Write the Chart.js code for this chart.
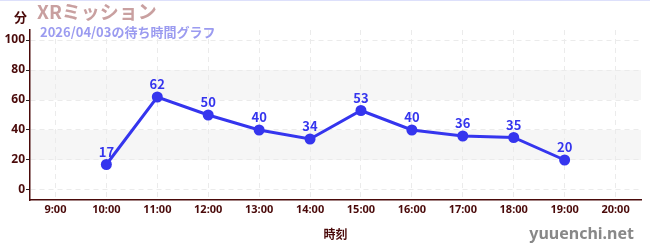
<!DOCTYPE html>
<html>
<head>
<meta charset="utf-8">
<script src="https://cdn.jsdelivr.net/npm/chart.js@4/dist/chart.umd.min.js"></script>
<style>
  html, body { margin: 0; padding: 0; background: #fff; }
  #wrap { width: 650px; height: 250px; position: relative; border-top: 1px solid #dde0fb; box-sizing: border-box; }
</style>
</head>
<body>
<div id="wrap"><canvas id="waitChart" width="650" height="249"></canvas></div>
<script>
// data
const hours = ['9:00', '10:00', '11:00', '12:00', '13:00', '14:00', '15:00', '16:00', '17:00', '18:00', '19:00', '20:00'];
const waitMinutes = [null, 17, 62, 50, 40, 34, 53, 40, 36, 35, 20, null];
const yTicks = [0, 10, 20, 30, 40, 50, 60, 70, 80, 90, 100];
const bands = [[20, 40], [60, 80]];

const maroon = '#4a0a0a';
const lineBlue = '#3535ee';
const gridGray = '#ebebeb';

// shaded bands behind the grid
const bandPlugin = {
    id: 'bands',
    beforeDraw(chart) {
        const { ctx, chartArea, scales } = chart;
        ctx.save();
        ctx.fillStyle = '#f6f6f6';
        bands.forEach(([lo, hi]) => {
            const y1 = scales.y.getPixelForValue(hi);
            const y2 = scales.y.getPixelForValue(lo);
            ctx.fillRect(chartArea.left, y1, chartArea.right - chartArea.left, y2 - y1);
        });
        ctx.restore();
    }
};

// value labels + header texts
const textPlugin = {
    id: 'texts',
    afterDatasetsDraw(chart) {
        const { ctx } = chart;
        const meta = chart.getDatasetMeta(0);
        ctx.save();
        ctx.fillStyle = lineBlue;
        ctx.font = 'bold 13px "Noto Sans CJK JP", "Noto Sans", sans-serif';
        ctx.textAlign = 'center';
        ctx.textBaseline = 'bottom';
        meta.data.forEach((pt, i) => {
            const v = waitMinutes[i];
            if (v === null || pt.skip) return;
            ctx.fillText(String(v), pt.x, pt.y - 6);
        });
        ctx.restore();
    },
    afterDraw(chart) {
        const { ctx } = chart;
        ctx.save();
        ctx.textBaseline = 'middle';
        ctx.textAlign = 'left';
        ctx.fillStyle = '#c9a0a0';
        ctx.font = 'bold 19px "Noto Sans CJK JP", sans-serif';
        ctx.fillText('XRミッション', 37, 11);
        ctx.fillStyle = '#9b9bf0';
        ctx.font = 'bold 13px "Noto Sans CJK JP", sans-serif';
        ctx.fillText('2026/04/03の待ち時間グラフ', 40, 31);
        ctx.fillStyle = maroon;
        ctx.font = 'bold 13px "Noto Sans CJK JP", sans-serif';
        ctx.fillText('分', 14, 16);
        ctx.textAlign = 'right';
        ctx.fillStyle = '#888888';
        ctx.font = 'bold 16px "Noto Sans", sans-serif';
        ctx.fillText('yuuenchi.net', 634, 233);
        ctx.restore();
    }
};

new Chart(document.getElementById('waitChart'), {
    type: 'line',
    data: {
        labels: hours,
        datasets: [{
            data: waitMinutes,
            borderColor: lineBlue,
            backgroundColor: lineBlue,
            borderWidth: 3,
            pointRadius: 5.5,
            pointBorderWidth: 0,
            pointHoverRadius: 5.5,
            tension: 0
        }]
    },
    plugins: [bandPlugin, textPlugin],
    options: {
        responsive: false,
        animation: false,
        events: [],
        layout: { padding: { top: 29, right: 9, left: 0, bottom: 0 } },
        plugins: {
            legend: { display: false },
            tooltip: { enabled: false },
            title: { display: false }
        },
        scales: {
            x: {
                offset: true,
                grid: {
                    offset: false,
                    color: gridGray,
                    drawTicks: false
                },
                border: { color: maroon, width: 1.5, dash: [5, 4] },
                ticks: {
                    color: maroon,
                    font: { size: 11, weight: 'bold', family: '"Noto Sans", sans-serif' },
                    padding: 3,
                    maxRotation: 0,
                    autoSkip: false
                },
                title: {
                    display: true,
                    text: '時刻',
                    color: maroon,
                    font: { size: 12, weight: 'bold', family: '"Noto Sans CJK JP", sans-serif' },
                    padding: { top: 0, bottom: 8 }
                },
                afterFit(scale) { scale.height = 50; }
            },
            y: {
                min: -6.67,
                max: 106.67,
                afterBuildTicks(scale) {
                    scale.ticks = yTicks.map(v => ({ value: v }));
                },
                grid: {
                    color: ctx => (ctx.tick && ctx.tick.value % 20 === 0) ? gridGray : 'rgba(0,0,0,0)',
                    tickColor: ctx => (ctx.tick && ctx.tick.value % 20 === 0) ? '#222222' : '#dd2222',
                    tickLength: 4
                },
                border: { color: maroon, width: 1.5, dash: [5, 4] },
                ticks: {
                    color: maroon,
                    font: { size: 12, weight: 'bold', family: '"Noto Sans", sans-serif' },
                    padding: 1,
                    callback: v => (v % 20 === 0 ? String(v) : '')
                },
                afterFit(scale) { scale.width = 30; }
            }
        }
    }
});
</script>
</body>
</html>
